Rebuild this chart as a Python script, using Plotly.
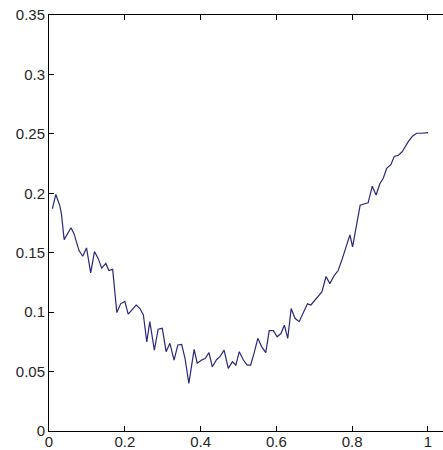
import plotly.graph_objects as go

x_vals = [0.009, 0.018, 0.029, 0.033, 0.040, 0.058, 0.066, 0.079, 0.089, 0.099,
          0.110, 0.120, 0.130, 0.139, 0.150, 0.158, 0.168, 0.176, 0.179, 0.189,
          0.200, 0.209, 0.220, 0.230, 0.240, 0.249, 0.258, 0.266, 0.278, 0.288,
          0.299, 0.309, 0.319, 0.330, 0.340, 0.350, 0.359, 0.369, 0.383, 0.391,
          0.403, 0.412, 0.422, 0.431, 0.442, 0.451, 0.462, 0.473, 0.484, 0.493,
          0.502, 0.513, 0.523, 0.532, 0.541, 0.551, 0.561, 0.572, 0.581, 0.592,
          0.602, 0.612, 0.621, 0.630, 0.639, 0.649, 0.660, 0.671, 0.682, 0.691,
          0.702, 0.711, 0.720, 0.731, 0.741, 0.753, 0.763, 0.774, 0.785, 0.794,
          0.801, 0.810, 0.821, 0.831, 0.842, 0.853, 0.863, 0.873, 0.882, 0.891,
          0.902, 0.911, 0.922, 0.932, 0.939, 0.948, 0.959, 0.970, 0.983, 1.000]
y_vals = [0.187, 0.199, 0.189, 0.182, 0.161, 0.171, 0.166, 0.152, 0.147, 0.154,
          0.133, 0.151, 0.145, 0.137, 0.141, 0.135, 0.136, 0.113, 0.0996, 0.107,
          0.109, 0.0984, 0.102, 0.106, 0.103, 0.0976, 0.075, 0.092, 0.068, 0.0856,
          0.0864, 0.0667, 0.0738, 0.0597, 0.0724, 0.0729, 0.061, 0.040, 0.0687, 0.057,
          0.0597, 0.061, 0.0659, 0.054, 0.060, 0.0625, 0.068, 0.0527, 0.0583, 0.0555,
          0.0667, 0.0597, 0.0555, 0.0555, 0.0653, 0.078, 0.071, 0.066, 0.0844, 0.0844,
          0.0793, 0.082, 0.089, 0.078, 0.103, 0.0948, 0.092, 0.099, 0.107, 0.106,
          0.110, 0.114, 0.117, 0.130, 0.124, 0.131, 0.135, 0.145, 0.155, 0.165,
          0.155, 0.172, 0.190, 0.191, 0.192, 0.206, 0.1986, 0.208, 0.2126, 0.221,
          0.224, 0.231, 0.232, 0.235, 0.239, 0.2434, 0.248, 0.2505, 0.2505, 0.251]

x_ticks = [0, 0.2, 0.4, 0.6, 0.8, 1]
x_tick_labels = ["0", "0.2", "0.4", "0.6", "0.8", "1"]
y_ticks = [0, 0.05, 0.1, 0.15, 0.2, 0.25, 0.3, 0.35]
y_tick_labels = ["0", "0.05", "0.1", "0.15", "0.2", "0.25", "0.3", "0.35"]

fig = go.Figure()
fig.add_trace(go.Scatter(x=x_vals, y=y_vals, mode="lines",
                         line=dict(color="#28287c", width=1.2), showlegend=False))

font = dict(family="Liberation Sans, Arial, sans-serif", size=15, color="#262626")
fig.update_layout(
    width=443, height=450,
    margin=dict(l=49, r=0, t=15, b=19, autoexpand=False),
    paper_bgcolor="white", plot_bgcolor="white",
    font=font,
    xaxis=dict(range=[0, 1.0396], tickvals=x_ticks, ticktext=x_tick_labels,
               ticks="inside", ticklen=5, tickcolor="black", showline=True,
               linecolor="black", linewidth=1, mirror="ticks", showgrid=False,
               zeroline=False, tickfont=font, automargin=False,
               ticklabeloverflow="allow", ticklabelstandoff=-3),
    yaxis=dict(range=[0, 0.35], tickvals=y_ticks, ticktext=y_tick_labels,
               ticks="inside", ticklen=5, tickcolor="black", showline=True,
               linecolor="black", linewidth=1, mirror=False, showgrid=False,
               zeroline=False, tickfont=font, automargin=False,
               ticklabeloverflow="allow"),
)
fig.write_html("out.html",
               config={"displayModeBar": False},
               post_script="document.body.style.margin='0';document.body.style.overflow='hidden';")
